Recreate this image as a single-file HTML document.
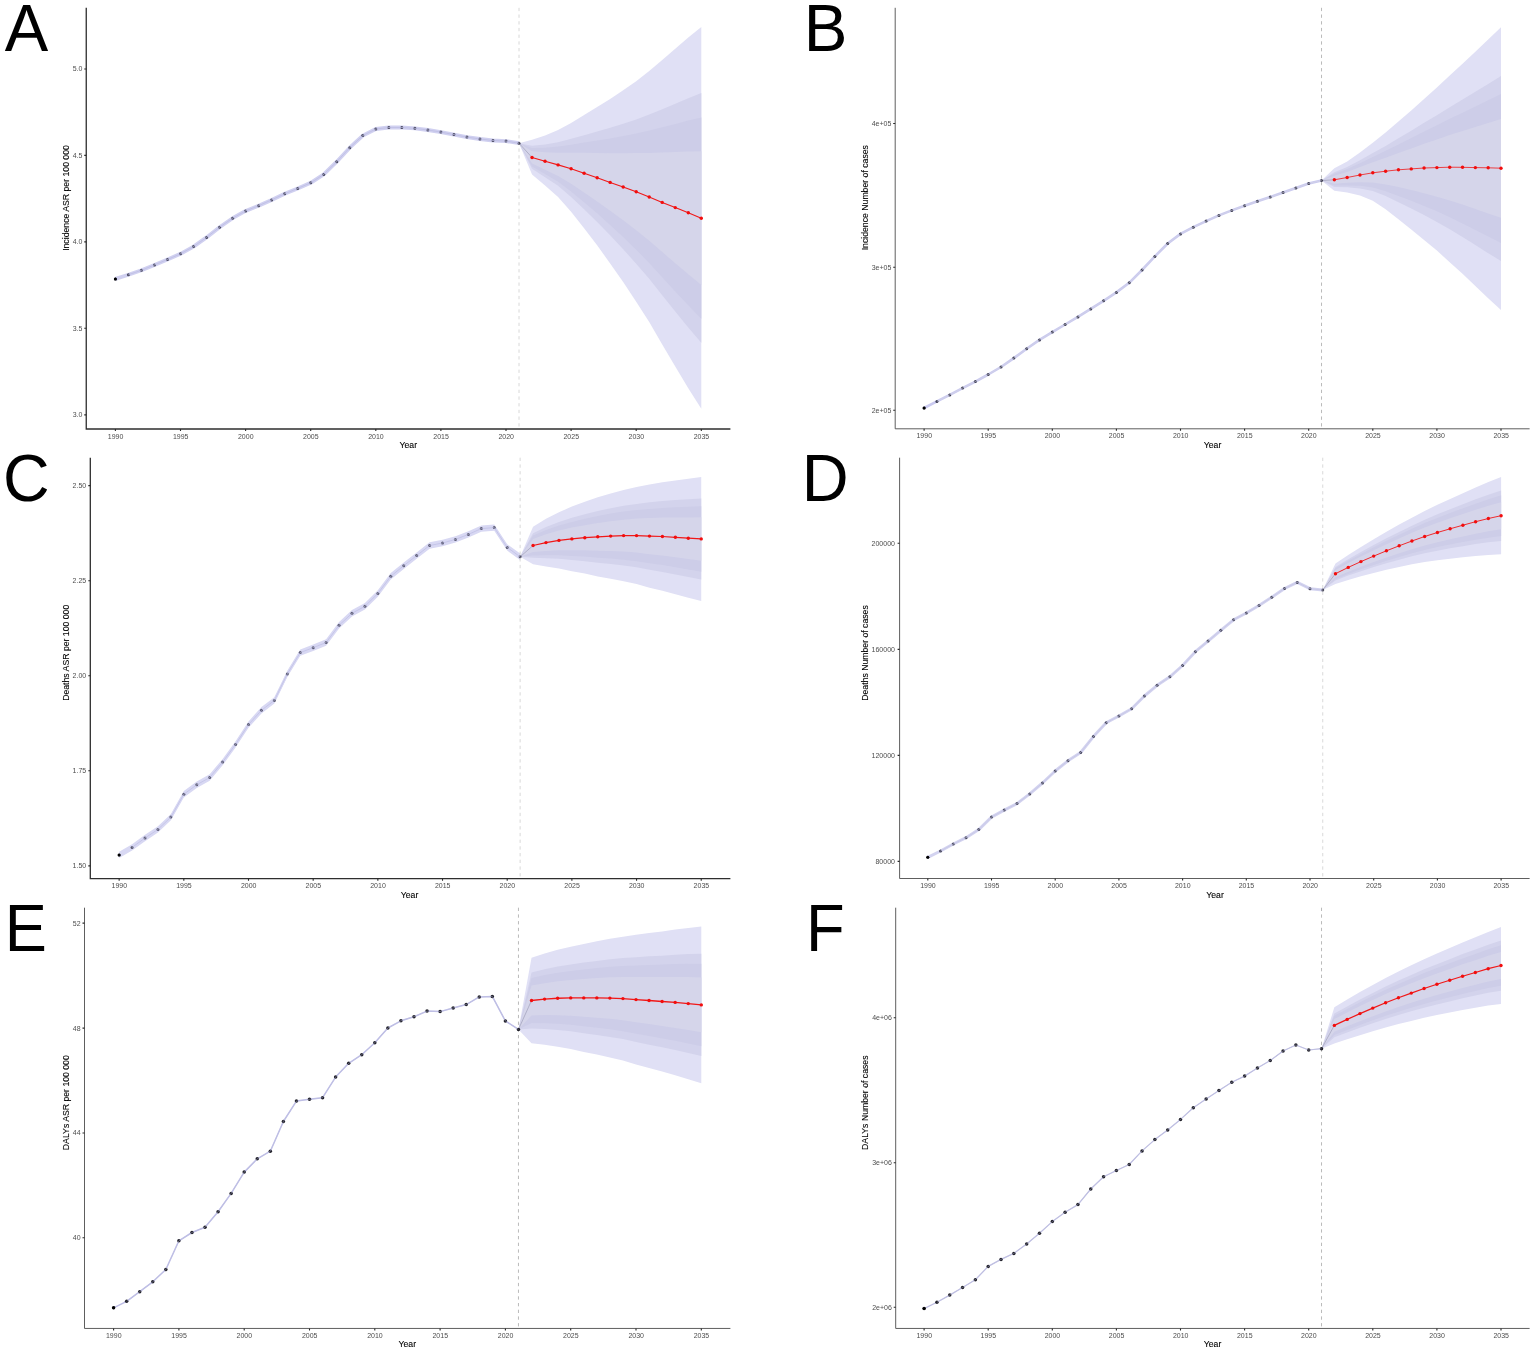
<!DOCTYPE html>
<html lang="en"><head><meta charset="utf-8"><title>Projected incidence, deaths and DALYs, 1990-2035</title>
<style>
html,body{margin:0;padding:0;background:#fff;}
body{width:1535px;height:1353px;overflow:hidden;font-family:"Liberation Sans",sans-serif;}
svg{display:block;}
text{font-family:"Liberation Sans",sans-serif;}
.letter{font-size:66px;fill:#000;}
.tick{font-size:7px;fill:#4d4d4d;}
.title{font-size:8.7px;fill:#000;stroke:#000;stroke-width:0.1px;}
</style></head><body>
<svg width="1535" height="1353" viewBox="0 0 1535 1353" role="img" aria-label="Six-panel projection chart">
<rect x="0" y="0" width="1535" height="1353" fill="#ffffff"/>
<g id="panel-A">
<polygon points="519.02,143.2 532.04,139.7 545.06,135.6 558.08,130.1 571.1,123 584.12,115 597.14,107.1 610.16,99 623.18,90.3 636.2,81.2 649.22,71 662.24,59.9 675.26,48.8 688.28,37.5 701.3,26.9 701.3,408.8 688.28,388.3 675.26,366.6 662.24,344.4 649.22,322 636.2,301.7 623.18,282 610.16,263.4 597.14,245.3 584.12,228.2 571.1,211.8 558.08,196.9 545.06,185.6 532.04,174.6" fill="#e0e0f5"/>
<polygon points="519.02,143.2 532.04,145.86 545.06,144.49 558.08,142.14 571.1,138.85 584.12,135.14 597.14,131.56 610.16,127.86 623.18,123.76 636.2,119.43 649.22,114.6 662.24,109.2 675.26,103.74 688.28,98.15 701.3,93.09 701.3,342.85 688.28,327.58 675.26,311.59 662.24,295.27 649.22,278.75 636.2,263.64 623.18,249.13 610.16,235.37 597.14,221.95 584.12,209.17 571.1,196.92 558.08,185.83 545.06,177.19 532.04,168.68" fill="#d3d3ec"/>
<polygon points="519.02,143.2 532.04,148.12 545.06,147.76 558.08,146.56 571.1,144.66 584.12,142.53 597.14,140.54 610.16,138.45 623.18,136.04 636.2,133.47 649.22,130.6 662.24,127.3 675.26,123.91 688.28,120.42 701.3,117.38 701.3,318.65 688.28,305.29 675.26,291.39 662.24,277.23 649.22,262.88 636.2,249.67 623.18,237.06 610.16,225.09 597.14,213.37 584.12,202.19 571.1,191.46 558.08,181.76 545.06,174.11 532.04,166.51" fill="#cdcde8"/>
<polygon points="519.02,143.2 532.04,151.27 545.06,152.31 558.08,152.72 571.1,152.77 584.12,152.83 597.14,153.06 610.16,153.21 623.18,153.16 636.2,153.02 649.22,152.9 662.24,152.53 675.26,152.02 688.28,151.45 701.3,151.25 701.3,284.91 688.28,274.23 675.26,263.25 662.24,252.1 649.22,240.75 636.2,230.2 623.18,220.25 610.16,210.75 597.14,201.43 584.12,192.45 571.1,183.85 558.08,176.1 545.06,169.81 532.04,163.49" fill="#d5d5ea"/>
<polyline points="115.4,278.9 128.42,274.7 141.44,270.3 154.46,264.9 167.48,259.5 180.5,253.8 193.52,246.6 206.54,237.4 219.56,227.2 232.58,218.2 245.6,210.9 258.62,205.7 271.64,199.9 284.66,193.8 297.68,188.4 310.7,182.8 323.72,174.4 336.74,161.7 349.76,147.7 362.78,135.6 375.8,129 388.82,127.5 401.84,127.5 414.86,128.3 427.88,130 440.9,132.1 453.92,134.6 466.94,137.1 479.96,139 492.98,140.5 506,141.1 519.02,143.2" fill="none" stroke="#d0d0f0" stroke-width="3.8" stroke-linejoin="round" stroke-linecap="butt"/>
<line x1="519.02" y1="7.8" x2="519.02" y2="429" stroke="#cfcfcf" stroke-width="0.8" stroke-dasharray="3.3 3.4"/>
<line x1="519.02" y1="143.2" x2="532.04" y2="157.5" stroke="#8a8aa6" stroke-width="0.5"/>
<g fill="#26263a" fill-opacity="0.8"><circle cx="115.4" cy="278.9" r="1.5"/><circle cx="128.42" cy="274.7" r="1.5"/><circle cx="141.44" cy="270.3" r="1.5"/><circle cx="154.46" cy="264.9" r="1.5"/><circle cx="167.48" cy="259.5" r="1.5"/><circle cx="180.5" cy="253.8" r="1.5"/><circle cx="193.52" cy="246.6" r="1.5"/><circle cx="206.54" cy="237.4" r="1.5"/><circle cx="219.56" cy="227.2" r="1.5"/><circle cx="232.58" cy="218.2" r="1.5"/><circle cx="245.6" cy="210.9" r="1.5"/><circle cx="258.62" cy="205.7" r="1.5"/><circle cx="271.64" cy="199.9" r="1.5"/><circle cx="284.66" cy="193.8" r="1.5"/><circle cx="297.68" cy="188.4" r="1.5"/><circle cx="310.7" cy="182.8" r="1.5"/><circle cx="323.72" cy="174.4" r="1.5"/><circle cx="336.74" cy="161.7" r="1.5"/><circle cx="349.76" cy="147.7" r="1.5"/><circle cx="362.78" cy="135.6" r="1.5"/><circle cx="375.8" cy="129" r="1.5"/><circle cx="388.82" cy="127.5" r="1.5"/><circle cx="401.84" cy="127.5" r="1.5"/><circle cx="414.86" cy="128.3" r="1.5"/><circle cx="427.88" cy="130" r="1.5"/><circle cx="440.9" cy="132.1" r="1.5"/><circle cx="453.92" cy="134.6" r="1.5"/><circle cx="466.94" cy="137.1" r="1.5"/><circle cx="479.96" cy="139" r="1.5"/><circle cx="492.98" cy="140.5" r="1.5"/><circle cx="506" cy="141.1" r="1.5"/><circle cx="519.02" cy="143.2" r="1.5"/></g>
<circle cx="115.4" cy="278.9" r="1.5" fill="#000"/>
<polyline points="128.42,274.7 141.44,270.3 154.46,264.9 167.48,259.5 180.5,253.8 193.52,246.6 206.54,237.4 219.56,227.2 232.58,218.2 245.6,210.9 258.62,205.7 271.64,199.9 284.66,193.8 297.68,188.4 310.7,182.8 323.72,174.4 336.74,161.7 349.76,147.7 362.78,135.6 375.8,129 388.82,127.5 401.84,127.5 414.86,128.3 427.88,130 440.9,132.1 453.92,134.6 466.94,137.1 479.96,139 492.98,140.5 506,141.1 519.02,143.2" fill="none" stroke="#bcbce2" stroke-width="0.9" stroke-linejoin="round" stroke-opacity="0.85"/>
<polyline points="532.04,157.5 545.06,161.3 558.08,164.9 571.1,168.8 584.12,173.2 597.14,177.8 610.16,182.4 623.18,187 636.2,191.7 649.22,197 662.24,202.4 675.26,207.6 688.28,212.8 701.3,218.2" fill="none" stroke="#f01818" stroke-width="1.1"/>
<g fill="#f20d0d"><circle cx="532.04" cy="157.5" r="1.7"/><circle cx="545.06" cy="161.3" r="1.7"/><circle cx="558.08" cy="164.9" r="1.7"/><circle cx="571.1" cy="168.8" r="1.7"/><circle cx="584.12" cy="173.2" r="1.7"/><circle cx="597.14" cy="177.8" r="1.7"/><circle cx="610.16" cy="182.4" r="1.7"/><circle cx="623.18" cy="187" r="1.7"/><circle cx="636.2" cy="191.7" r="1.7"/><circle cx="649.22" cy="197" r="1.7"/><circle cx="662.24" cy="202.4" r="1.7"/><circle cx="675.26" cy="207.6" r="1.7"/><circle cx="688.28" cy="212.8" r="1.7"/><circle cx="701.3" cy="218.2" r="1.7"/></g>
<path d="M86.25 7.8V429H730.4" fill="none" stroke="#2e2e2e" stroke-width="1.3"/>
<path d="M84.25 69h2M84.25 155.4h2M84.25 241.9h2M84.25 328.2h2M84.25 414.9h2M115.4 429v2M180.5 429v2M245.6 429v2M310.7 429v2M375.8 429v2M440.9 429v2M506 429v2M571.1 429v2M636.2 429v2M701.3 429v2" fill="none" stroke="#2a2a2a" stroke-width="1.1"/>
<text class="tick" transform="translate(82.35 71.45) scale(1 1.05)" text-anchor="end">5.0</text>
<text class="tick" transform="translate(82.35 157.85) scale(1 1.05)" text-anchor="end">4.5</text>
<text class="tick" transform="translate(82.35 244.35) scale(1 1.05)" text-anchor="end">4.0</text>
<text class="tick" transform="translate(82.35 330.65) scale(1 1.05)" text-anchor="end">3.5</text>
<text class="tick" transform="translate(82.35 417.35) scale(1 1.05)" text-anchor="end">3.0</text>
<text class="tick" transform="translate(115.55 438.55) scale(1 1.05)" text-anchor="middle">1990</text>
<text class="tick" transform="translate(180.65 438.55) scale(1 1.05)" text-anchor="middle">1995</text>
<text class="tick" transform="translate(245.75 438.55) scale(1 1.05)" text-anchor="middle">2000</text>
<text class="tick" transform="translate(310.85 438.55) scale(1 1.05)" text-anchor="middle">2005</text>
<text class="tick" transform="translate(375.95 438.55) scale(1 1.05)" text-anchor="middle">2010</text>
<text class="tick" transform="translate(441.05 438.55) scale(1 1.05)" text-anchor="middle">2015</text>
<text class="tick" transform="translate(506.15 438.55) scale(1 1.05)" text-anchor="middle">2020</text>
<text class="tick" transform="translate(571.25 438.55) scale(1 1.05)" text-anchor="middle">2025</text>
<text class="tick" transform="translate(636.35 438.55) scale(1 1.05)" text-anchor="middle">2030</text>
<text class="tick" transform="translate(701.45 438.55) scale(1 1.05)" text-anchor="middle">2035</text>
<text class="title" transform="translate(408.3 448) scale(1 1.04)" text-anchor="middle">Year</text>
<text class="title" transform="translate(68.6 198) rotate(-90) scale(1 1.04)" text-anchor="middle">Incidence ASR per 100 000</text>
<text class="letter" transform="translate(4.66 51) scale(0.988 1)">A</text>
</g>
<g id="panel-B">
<polygon points="1321.52,180.5 1334.34,168.3 1347.16,161.5 1359.98,152.5 1372.8,142.7 1385.62,132.5 1398.44,121.6 1411.26,110.5 1424.08,98.9 1436.9,87.4 1449.72,75.5 1462.54,63.7 1475.36,51.8 1488.18,39.5 1501,27.3 1501,310.1 1488.18,298.3 1475.36,286.1 1462.54,273.8 1449.72,262.2 1436.9,250.6 1424.08,240 1411.26,229.4 1398.44,219.3 1385.62,209.2 1372.8,200.8 1359.98,195.5 1347.16,192.5 1334.34,190.8" fill="#e0e0f5"/>
<polygon points="1321.52,180.5 1334.34,172.28 1347.16,167.04 1359.98,160.28 1372.8,153.11 1385.62,145.89 1398.44,138.28 1411.26,130.71 1424.08,122.81 1436.9,115.15 1449.72,107.23 1462.54,99.55 1475.36,91.87 1488.18,83.89 1501,76.05 1501,261 1488.18,253.15 1475.36,245.1 1462.54,236.95 1449.72,229.33 1436.9,221.88 1424.08,215.09 1411.26,208.47 1398.44,202.17 1385.62,196.05 1372.8,191.11 1359.98,188.41 1347.16,187.31 1334.34,186.99" fill="#d3d3ec"/>
<polygon points="1321.52,180.5 1334.34,173.74 1347.16,169.07 1359.98,163.14 1372.8,156.94 1385.62,150.81 1398.44,144.4 1411.26,138.12 1424.08,131.58 1436.9,125.33 1449.72,118.87 1462.54,112.7 1475.36,106.57 1488.18,100.19 1501,93.95 1501,242.98 1488.18,236.57 1475.36,230.05 1462.54,223.43 1449.72,217.26 1436.9,211.34 1424.08,205.94 1411.26,200.78 1398.44,195.89 1385.62,191.23 1372.8,187.56 1359.98,185.8 1347.16,185.41 1334.34,185.6" fill="#cdcde8"/>
<polygon points="1321.52,180.5 1334.34,175.78 1347.16,171.9 1359.98,167.12 1372.8,162.27 1385.62,157.66 1398.44,152.93 1411.26,148.46 1424.08,143.81 1436.9,139.53 1449.72,135.1 1462.54,131.04 1475.36,127.07 1488.18,122.9 1501,118.88 1501,217.86 1488.18,213.48 1475.36,209.07 1462.54,204.58 1449.72,200.45 1436.9,196.65 1424.08,193.2 1411.26,190.07 1398.44,187.12 1385.62,184.5 1372.8,182.6 1359.98,182.18 1347.16,182.75 1334.34,183.65" fill="#d5d5ea"/>
<polyline points="924.1,408 936.92,401.4 949.74,394.9 962.56,388.1 975.38,381.6 988.2,374.5 1001.02,367 1013.84,358.1 1026.66,348.7 1039.48,339.9 1052.3,332.1 1065.12,324.5 1077.94,316.9 1090.76,308.9 1103.58,300.8 1116.4,292.4 1129.22,282.8 1142.04,270 1154.86,256.4 1167.68,243.5 1180.5,233.9 1193.32,227.2 1206.14,221.1 1218.96,215.4 1231.78,210.4 1244.6,205.8 1257.42,201.3 1270.24,197.1 1283.06,192.6 1295.88,188 1308.7,183.5 1321.52,180.5" fill="none" stroke="#cacaf0" stroke-width="2.6" stroke-linejoin="round" stroke-linecap="butt"/>
<line x1="1321.52" y1="7.8" x2="1321.52" y2="428.8" stroke="#9c9c9c" stroke-width="0.7" stroke-dasharray="3.3 3.4"/>
<line x1="1321.52" y1="180.5" x2="1334.34" y2="179.8" stroke="#8a8aa6" stroke-width="0.5"/>
<g fill="#26263a" fill-opacity="0.85"><circle cx="924.1" cy="408" r="1.5"/><circle cx="936.92" cy="401.4" r="1.5"/><circle cx="949.74" cy="394.9" r="1.5"/><circle cx="962.56" cy="388.1" r="1.5"/><circle cx="975.38" cy="381.6" r="1.5"/><circle cx="988.2" cy="374.5" r="1.5"/><circle cx="1001.02" cy="367" r="1.5"/><circle cx="1013.84" cy="358.1" r="1.5"/><circle cx="1026.66" cy="348.7" r="1.5"/><circle cx="1039.48" cy="339.9" r="1.5"/><circle cx="1052.3" cy="332.1" r="1.5"/><circle cx="1065.12" cy="324.5" r="1.5"/><circle cx="1077.94" cy="316.9" r="1.5"/><circle cx="1090.76" cy="308.9" r="1.5"/><circle cx="1103.58" cy="300.8" r="1.5"/><circle cx="1116.4" cy="292.4" r="1.5"/><circle cx="1129.22" cy="282.8" r="1.5"/><circle cx="1142.04" cy="270" r="1.5"/><circle cx="1154.86" cy="256.4" r="1.5"/><circle cx="1167.68" cy="243.5" r="1.5"/><circle cx="1180.5" cy="233.9" r="1.5"/><circle cx="1193.32" cy="227.2" r="1.5"/><circle cx="1206.14" cy="221.1" r="1.5"/><circle cx="1218.96" cy="215.4" r="1.5"/><circle cx="1231.78" cy="210.4" r="1.5"/><circle cx="1244.6" cy="205.8" r="1.5"/><circle cx="1257.42" cy="201.3" r="1.5"/><circle cx="1270.24" cy="197.1" r="1.5"/><circle cx="1283.06" cy="192.6" r="1.5"/><circle cx="1295.88" cy="188" r="1.5"/><circle cx="1308.7" cy="183.5" r="1.5"/><circle cx="1321.52" cy="180.5" r="1.5"/></g>
<circle cx="924.1" cy="408" r="1.5" fill="#000"/>
<polyline points="936.92,401.4 949.74,394.9 962.56,388.1 975.38,381.6 988.2,374.5 1001.02,367 1013.84,358.1 1026.66,348.7 1039.48,339.9 1052.3,332.1 1065.12,324.5 1077.94,316.9 1090.76,308.9 1103.58,300.8 1116.4,292.4 1129.22,282.8 1142.04,270 1154.86,256.4 1167.68,243.5 1180.5,233.9 1193.32,227.2 1206.14,221.1 1218.96,215.4 1231.78,210.4 1244.6,205.8 1257.42,201.3 1270.24,197.1 1283.06,192.6 1295.88,188 1308.7,183.5 1321.52,180.5" fill="none" stroke="#d4d4e2" stroke-width="0.7" stroke-linejoin="round" stroke-opacity="0.85"/>
<polyline points="1334.34,179.8 1347.16,177.5 1359.98,175 1372.8,172.8 1385.62,171.2 1398.44,169.8 1411.26,168.9 1424.08,168 1436.9,167.6 1449.72,167.2 1462.54,167.3 1475.36,167.6 1488.18,167.8 1501,168.2" fill="none" stroke="#f01818" stroke-width="0.8"/>
<g fill="#f20d0d"><circle cx="1334.34" cy="179.8" r="1.7"/><circle cx="1347.16" cy="177.5" r="1.7"/><circle cx="1359.98" cy="175" r="1.7"/><circle cx="1372.8" cy="172.8" r="1.7"/><circle cx="1385.62" cy="171.2" r="1.7"/><circle cx="1398.44" cy="169.8" r="1.7"/><circle cx="1411.26" cy="168.9" r="1.7"/><circle cx="1424.08" cy="168" r="1.7"/><circle cx="1436.9" cy="167.6" r="1.7"/><circle cx="1449.72" cy="167.2" r="1.7"/><circle cx="1462.54" cy="167.3" r="1.7"/><circle cx="1475.36" cy="167.6" r="1.7"/><circle cx="1488.18" cy="167.8" r="1.7"/><circle cx="1501" cy="168.2" r="1.7"/></g>
<path d="M895.2 7.8V428.8H1529.6" fill="none" stroke="#4c4c4c" stroke-width="0.9"/>
<path d="M893.2 123.5h2M893.2 267.2h2M893.2 410.2h2M924.1 428.8v2M988.2 428.8v2M1052.3 428.8v2M1116.4 428.8v2M1180.5 428.8v2M1244.6 428.8v2M1308.7 428.8v2M1372.8 428.8v2M1436.9 428.8v2M1501 428.8v2" fill="none" stroke="#2a2a2a" stroke-width="1.1"/>
<text class="tick" transform="translate(891.3 125.95) scale(1 1.05)" text-anchor="end">4e+05</text>
<text class="tick" transform="translate(891.3 269.65) scale(1 1.05)" text-anchor="end">3e+05</text>
<text class="tick" transform="translate(891.3 412.65) scale(1 1.05)" text-anchor="end">2e+05</text>
<text class="tick" transform="translate(924.25 438.35) scale(1 1.05)" text-anchor="middle">1990</text>
<text class="tick" transform="translate(988.35 438.35) scale(1 1.05)" text-anchor="middle">1995</text>
<text class="tick" transform="translate(1052.45 438.35) scale(1 1.05)" text-anchor="middle">2000</text>
<text class="tick" transform="translate(1116.55 438.35) scale(1 1.05)" text-anchor="middle">2005</text>
<text class="tick" transform="translate(1180.65 438.35) scale(1 1.05)" text-anchor="middle">2010</text>
<text class="tick" transform="translate(1244.75 438.35) scale(1 1.05)" text-anchor="middle">2015</text>
<text class="tick" transform="translate(1308.85 438.35) scale(1 1.05)" text-anchor="middle">2020</text>
<text class="tick" transform="translate(1372.95 438.35) scale(1 1.05)" text-anchor="middle">2025</text>
<text class="tick" transform="translate(1437.05 438.35) scale(1 1.05)" text-anchor="middle">2030</text>
<text class="tick" transform="translate(1501.15 438.35) scale(1 1.05)" text-anchor="middle">2035</text>
<text class="title" transform="translate(1212.5 448) scale(1 1.04)" text-anchor="middle">Year</text>
<text class="title" transform="translate(868.2 197.7) rotate(-90) scale(1 1.04)" text-anchor="middle">Incidence Number of cases</text>
<text class="letter" transform="translate(803.72 51) scale(0.992 1)">B</text>
</g>
<g id="panel-C">
<polygon points="520.13,556.8 533.07,526.7 546,518.7 558.94,512.2 571.88,506.6 584.81,501.8 597.75,497.2 610.68,493.4 623.62,490 636.55,487.1 649.49,484.5 662.42,482.3 675.36,480.4 688.29,478.7 701.23,477 701.23,601.1 688.29,597.7 675.36,594.2 662.42,590.7 649.49,587.7 636.55,584.1 623.62,581.2 610.68,578.8 597.75,576.4 584.81,573.6 571.88,571.2 558.94,568.6 546,566.5 533.07,564.3" fill="#e0e0f5"/>
<polygon points="520.13,556.8 533.07,533.2 546,526.97 558.94,521.96 571.88,517.78 584.81,514.22 597.75,510.9 610.68,508.17 623.62,505.78 636.55,503.88 649.49,502.35 662.42,501.05 675.36,500.09 688.29,499.29 701.23,498.42 701.23,579.58 688.29,577.11 675.36,574.51 662.42,571.95 649.49,569.85 636.55,567.32 623.62,565.42 610.68,564.03 597.75,562.7 584.81,561.18 571.88,560.02 558.94,558.84 546,558.23 533.07,557.8" fill="#d3d3ec"/>
<polygon points="520.13,556.8 533.07,535.59 546,530 558.94,525.54 571.88,521.88 584.81,518.78 597.75,515.93 610.68,513.6 623.62,511.57 636.55,510.04 649.49,508.91 662.42,507.94 675.36,507.31 688.29,506.84 701.23,506.28 701.23,571.68 688.29,569.56 675.36,567.29 662.42,565.06 649.49,563.29 636.55,561.16 623.62,559.63 610.68,558.6 597.75,557.67 584.81,556.62 571.88,555.92 558.94,555.26 546,555.2 533.07,555.41" fill="#cdcde8"/>
<polygon points="520.13,556.8 533.07,538.92 546,534.24 558.94,530.53 571.88,527.6 584.81,525.13 597.75,522.94 610.68,521.15 623.62,519.64 636.55,518.62 649.49,518.04 662.42,517.53 675.36,517.38 688.29,517.38 701.23,517.24 701.23,560.67 688.29,559.03 675.36,557.21 662.42,555.47 649.49,554.16 636.55,552.58 623.62,551.56 610.68,551.05 597.75,550.66 584.81,550.27 571.88,550.2 558.94,550.27 546,550.97 533.07,552.08" fill="#d5d5ea"/>
<polygon points="119.15,851.7 132.09,844.2 145.02,834.8 157.96,826.2 170.89,813.9 183.82,791 196.76,781.6 209.69,774.3 222.63,758.9 235.56,741.2 248.5,721.4 261.44,707.1 274.37,697.2 287.31,670.7 300.24,649.4 313.18,644.5 326.11,639.3 339.05,622.1 351.98,610.1 364.92,603.1 377.85,590.3 390.78,573.1 403.72,562.5 416.65,552.4 429.59,542.3 442.52,539.8 455.46,536.2 468.39,531.2 481.33,525.4 494.26,524.4 507.2,544.2 520.13,553.6 520.13,560 507.2,550.6 494.26,530.8 481.33,531.8 468.39,537.6 455.46,542.6 442.52,546.2 429.59,548.7 416.65,558.8 403.72,568.9 390.78,579.5 377.85,596.7 364.92,609.5 351.98,616.5 339.05,628.5 326.11,645.7 313.18,650.9 300.24,655.8 287.31,677.1 274.37,703.6 261.44,713.5 248.5,727.8 235.56,747.6 222.63,765.3 209.69,780.7 196.76,788 183.82,797.4 170.89,820.3 157.96,832.6 145.02,841.2 132.09,850.6 119.15,858.1" fill="#d8d8f3"/>
<polyline points="119.15,854.9 132.09,847.4 145.02,838 157.96,829.4 170.89,817.1 183.82,794.2 196.76,784.8 209.69,777.5 222.63,762.1 235.56,744.4 248.5,724.6 261.44,710.3 274.37,700.4 287.31,673.9 300.24,652.6 313.18,647.7 326.11,642.5 339.05,625.3 351.98,613.3 364.92,606.3 377.85,593.5 390.78,576.3 403.72,565.7 416.65,555.6 429.59,545.5 442.52,543 455.46,539.4 468.39,534.4 481.33,528.6 494.26,527.6 507.2,547.4 520.13,556.8" fill="none" stroke="#d8d8f3" stroke-width="2.2" stroke-linejoin="round" stroke-linecap="butt"/>
<line x1="520.13" y1="457.7" x2="520.13" y2="878.7" stroke="#cfcfcf" stroke-width="0.8" stroke-dasharray="3.3 3.4"/>
<line x1="520.13" y1="556.8" x2="533.07" y2="545.5" stroke="#8a8aa6" stroke-width="0.5"/>
<g fill="#26263a" fill-opacity="0.7"><circle cx="119.15" cy="854.9" r="1.5"/><circle cx="132.09" cy="847.4" r="1.5"/><circle cx="145.02" cy="838" r="1.5"/><circle cx="157.96" cy="829.4" r="1.5"/><circle cx="170.89" cy="817.1" r="1.5"/><circle cx="183.82" cy="794.2" r="1.5"/><circle cx="196.76" cy="784.8" r="1.5"/><circle cx="209.69" cy="777.5" r="1.5"/><circle cx="222.63" cy="762.1" r="1.5"/><circle cx="235.56" cy="744.4" r="1.5"/><circle cx="248.5" cy="724.6" r="1.5"/><circle cx="261.44" cy="710.3" r="1.5"/><circle cx="274.37" cy="700.4" r="1.5"/><circle cx="287.31" cy="673.9" r="1.5"/><circle cx="300.24" cy="652.6" r="1.5"/><circle cx="313.18" cy="647.7" r="1.5"/><circle cx="326.11" cy="642.5" r="1.5"/><circle cx="339.05" cy="625.3" r="1.5"/><circle cx="351.98" cy="613.3" r="1.5"/><circle cx="364.92" cy="606.3" r="1.5"/><circle cx="377.85" cy="593.5" r="1.5"/><circle cx="390.78" cy="576.3" r="1.5"/><circle cx="403.72" cy="565.7" r="1.5"/><circle cx="416.65" cy="555.6" r="1.5"/><circle cx="429.59" cy="545.5" r="1.5"/><circle cx="442.52" cy="543" r="1.5"/><circle cx="455.46" cy="539.4" r="1.5"/><circle cx="468.39" cy="534.4" r="1.5"/><circle cx="481.33" cy="528.6" r="1.5"/><circle cx="494.26" cy="527.6" r="1.5"/><circle cx="507.2" cy="547.4" r="1.5"/><circle cx="520.13" cy="556.8" r="1.5"/></g>
<circle cx="119.15" cy="854.9" r="1.5" fill="#000"/>
<polyline points="132.09,847.4 145.02,838 157.96,829.4 170.89,817.1 183.82,794.2 196.76,784.8 209.69,777.5 222.63,762.1 235.56,744.4 248.5,724.6 261.44,710.3 274.37,700.4 287.31,673.9 300.24,652.6 313.18,647.7 326.11,642.5 339.05,625.3 351.98,613.3 364.92,606.3 377.85,593.5 390.78,576.3 403.72,565.7 416.65,555.6 429.59,545.5 442.52,543 455.46,539.4 468.39,534.4 481.33,528.6 494.26,527.6 507.2,547.4 520.13,556.8" fill="none" stroke="#b8b8e0" stroke-width="0.7" stroke-linejoin="round" stroke-opacity="0.85"/>
<polyline points="533.07,545.5 546,542.6 558.94,540.4 571.88,538.9 584.81,537.7 597.75,536.8 610.68,536.1 623.62,535.6 636.55,535.6 649.49,536.1 662.42,536.5 675.36,537.3 688.29,538.2 701.23,538.9" fill="none" stroke="#f01818" stroke-width="1.2"/>
<g fill="#f20d0d"><circle cx="533.07" cy="545.5" r="1.7"/><circle cx="546" cy="542.6" r="1.7"/><circle cx="558.94" cy="540.4" r="1.7"/><circle cx="571.88" cy="538.9" r="1.7"/><circle cx="584.81" cy="537.7" r="1.7"/><circle cx="597.75" cy="536.8" r="1.7"/><circle cx="610.68" cy="536.1" r="1.7"/><circle cx="623.62" cy="535.6" r="1.7"/><circle cx="636.55" cy="535.6" r="1.7"/><circle cx="649.49" cy="536.1" r="1.7"/><circle cx="662.42" cy="536.5" r="1.7"/><circle cx="675.36" cy="537.3" r="1.7"/><circle cx="688.29" cy="538.2" r="1.7"/><circle cx="701.23" cy="538.9" r="1.7"/></g>
<path d="M90.3 457.7V878.7H730.4" fill="none" stroke="#2e2e2e" stroke-width="1.3"/>
<path d="M88.3 485.6h2M88.3 580.7h2M88.3 675.8h2M88.3 770.8h2M88.3 865.9h2M119.15 878.7v2M183.82 878.7v2M248.5 878.7v2M313.18 878.7v2M377.85 878.7v2M442.52 878.7v2M507.2 878.7v2M571.88 878.7v2M636.55 878.7v2M701.23 878.7v2" fill="none" stroke="#2a2a2a" stroke-width="1.1"/>
<text class="tick" transform="translate(86.2 488.05) scale(1 1.05)" text-anchor="end">2.50</text>
<text class="tick" transform="translate(86.2 583.15) scale(1 1.05)" text-anchor="end">2.25</text>
<text class="tick" transform="translate(86.2 678.25) scale(1 1.05)" text-anchor="end">2.00</text>
<text class="tick" transform="translate(86.2 773.25) scale(1 1.05)" text-anchor="end">1.75</text>
<text class="tick" transform="translate(86.2 868.35) scale(1 1.05)" text-anchor="end">1.50</text>
<text class="tick" transform="translate(119.3 888.25) scale(1 1.05)" text-anchor="middle">1990</text>
<text class="tick" transform="translate(183.97 888.25) scale(1 1.05)" text-anchor="middle">1995</text>
<text class="tick" transform="translate(248.65 888.25) scale(1 1.05)" text-anchor="middle">2000</text>
<text class="tick" transform="translate(313.32 888.25) scale(1 1.05)" text-anchor="middle">2005</text>
<text class="tick" transform="translate(378 888.25) scale(1 1.05)" text-anchor="middle">2010</text>
<text class="tick" transform="translate(442.67 888.25) scale(1 1.05)" text-anchor="middle">2015</text>
<text class="tick" transform="translate(507.35 888.25) scale(1 1.05)" text-anchor="middle">2020</text>
<text class="tick" transform="translate(572.02 888.25) scale(1 1.05)" text-anchor="middle">2025</text>
<text class="tick" transform="translate(636.7 888.25) scale(1 1.05)" text-anchor="middle">2030</text>
<text class="tick" transform="translate(701.38 888.25) scale(1 1.05)" text-anchor="middle">2035</text>
<text class="title" transform="translate(409.5 897.6) scale(1 1.04)" text-anchor="middle">Year</text>
<text class="title" transform="translate(68.6 652.8) rotate(-90) scale(1 1.04)" text-anchor="middle">Deaths ASR per 100 000</text>
<text class="letter" transform="translate(3.04 501) scale(0.978 1)">C</text>
</g>
<g id="panel-D">
<polygon points="1322.74,590 1335.48,563.4 1348.22,554.92 1360.96,546.95 1373.7,539.27 1386.44,531.79 1399.18,524.62 1411.92,517.64 1424.66,510.96 1437.4,504.78 1450.14,498.91 1462.88,493.13 1475.62,487.45 1488.36,482.08 1501.1,477.1 1501.1,554.3 1488.36,554.92 1475.62,555.95 1462.88,557.27 1450.14,558.69 1437.4,560.22 1424.66,562.04 1411.92,564.36 1399.18,566.98 1386.44,569.81 1373.7,572.93 1360.96,576.25 1348.22,579.88 1335.48,584" fill="#e0e0f5"/>
<polygon points="1322.74,590 1335.48,566.96 1348.22,559.24 1360.96,552.02 1373.7,545.09 1386.44,538.37 1399.18,531.95 1411.92,525.72 1424.66,519.8 1437.4,514.37 1450.14,509.25 1462.88,504.23 1475.62,499.3 1488.36,494.68 1501.1,490.46 1501.1,540.94 1488.36,542.32 1475.62,544.1 1462.88,546.17 1450.14,548.35 1437.4,550.63 1424.66,553.2 1411.92,556.28 1399.18,559.65 1386.44,563.23 1373.7,567.11 1360.96,571.18 1348.22,575.56 1335.48,580.44" fill="#d3d3ec"/>
<polygon points="1322.74,590 1335.48,568.27 1348.22,560.82 1360.96,553.88 1373.7,547.23 1386.44,540.78 1399.18,534.64 1411.92,528.69 1424.66,523.04 1437.4,517.89 1450.14,513.05 1462.88,508.3 1475.62,503.65 1488.36,499.31 1501.1,495.36 1501.1,536.04 1488.36,537.69 1475.62,539.75 1462.88,542.1 1450.14,544.55 1437.4,547.11 1424.66,549.96 1411.92,553.31 1399.18,556.96 1386.44,560.82 1373.7,564.97 1360.96,569.32 1348.22,573.98 1335.48,579.13" fill="#cdcde8"/>
<polygon points="1322.74,590 1335.48,570.1 1348.22,563.03 1360.96,556.47 1373.7,550.21 1386.44,544.15 1399.18,538.39 1411.92,532.82 1424.66,527.56 1437.4,522.8 1450.14,518.34 1462.88,513.98 1475.62,509.71 1488.36,505.75 1501.1,502.19 1501.1,529.21 1488.36,531.25 1475.62,533.69 1462.88,536.42 1450.14,539.26 1437.4,542.2 1424.66,545.44 1411.92,549.18 1399.18,553.21 1386.44,557.45 1373.7,561.99 1360.96,566.73 1348.22,571.77 1335.48,577.31" fill="#d5d5ea"/>
<polyline points="927.8,857.3 940.54,851 953.28,844 966.02,837.7 978.76,829.6 991.5,817.1 1004.24,810.1 1016.98,803.6 1029.72,793.9 1042.46,783 1055.2,771 1067.94,760.8 1080.68,752.5 1093.42,736.6 1106.16,722.8 1118.9,716 1131.64,708.7 1144.38,696 1157.12,685.3 1169.86,676.8 1182.6,665.5 1195.34,651.7 1208.08,641.1 1220.82,630.3 1233.56,619.8 1246.3,613 1259.04,605.5 1271.78,597.2 1284.52,588.5 1297.26,582.4 1310,588.7 1322.74,590" fill="none" stroke="#d3d3f0" stroke-width="3" stroke-linejoin="round" stroke-linecap="butt"/>
<line x1="1322.74" y1="457.7" x2="1322.74" y2="878.5" stroke="#cfcfcf" stroke-width="0.8" stroke-dasharray="3.3 3.4"/>
<line x1="1322.74" y1="590" x2="1335.48" y2="573.7" stroke="#8a8aa6" stroke-width="0.5"/>
<g fill="#26263a" fill-opacity="0.8"><circle cx="927.8" cy="857.3" r="1.5"/><circle cx="940.54" cy="851" r="1.5"/><circle cx="953.28" cy="844" r="1.5"/><circle cx="966.02" cy="837.7" r="1.5"/><circle cx="978.76" cy="829.6" r="1.5"/><circle cx="991.5" cy="817.1" r="1.5"/><circle cx="1004.24" cy="810.1" r="1.5"/><circle cx="1016.98" cy="803.6" r="1.5"/><circle cx="1029.72" cy="793.9" r="1.5"/><circle cx="1042.46" cy="783" r="1.5"/><circle cx="1055.2" cy="771" r="1.5"/><circle cx="1067.94" cy="760.8" r="1.5"/><circle cx="1080.68" cy="752.5" r="1.5"/><circle cx="1093.42" cy="736.6" r="1.5"/><circle cx="1106.16" cy="722.8" r="1.5"/><circle cx="1118.9" cy="716" r="1.5"/><circle cx="1131.64" cy="708.7" r="1.5"/><circle cx="1144.38" cy="696" r="1.5"/><circle cx="1157.12" cy="685.3" r="1.5"/><circle cx="1169.86" cy="676.8" r="1.5"/><circle cx="1182.6" cy="665.5" r="1.5"/><circle cx="1195.34" cy="651.7" r="1.5"/><circle cx="1208.08" cy="641.1" r="1.5"/><circle cx="1220.82" cy="630.3" r="1.5"/><circle cx="1233.56" cy="619.8" r="1.5"/><circle cx="1246.3" cy="613" r="1.5"/><circle cx="1259.04" cy="605.5" r="1.5"/><circle cx="1271.78" cy="597.2" r="1.5"/><circle cx="1284.52" cy="588.5" r="1.5"/><circle cx="1297.26" cy="582.4" r="1.5"/><circle cx="1310" cy="588.7" r="1.5"/><circle cx="1322.74" cy="590" r="1.5"/></g>
<circle cx="927.8" cy="857.3" r="1.5" fill="#000"/>
<polyline points="940.54,851 953.28,844 966.02,837.7 978.76,829.6 991.5,817.1 1004.24,810.1 1016.98,803.6 1029.72,793.9 1042.46,783 1055.2,771 1067.94,760.8 1080.68,752.5 1093.42,736.6 1106.16,722.8 1118.9,716 1131.64,708.7 1144.38,696 1157.12,685.3 1169.86,676.8 1182.6,665.5 1195.34,651.7 1208.08,641.1 1220.82,630.3 1233.56,619.8 1246.3,613 1259.04,605.5 1271.78,597.2 1284.52,588.5 1297.26,582.4 1310,588.7 1322.74,590" fill="none" stroke="#c4c4e2" stroke-width="0.8" stroke-linejoin="round" stroke-opacity="0.85"/>
<polyline points="1335.48,573.7 1348.22,567.4 1360.96,561.6 1373.7,556.1 1386.44,550.8 1399.18,545.8 1411.92,541 1424.66,536.5 1437.4,532.5 1450.14,528.8 1462.88,525.2 1475.62,521.7 1488.36,518.5 1501.1,515.7" fill="none" stroke="#f01818" stroke-width="0.9"/>
<g fill="#f20d0d"><circle cx="1335.48" cy="573.7" r="1.7"/><circle cx="1348.22" cy="567.4" r="1.7"/><circle cx="1360.96" cy="561.6" r="1.7"/><circle cx="1373.7" cy="556.1" r="1.7"/><circle cx="1386.44" cy="550.8" r="1.7"/><circle cx="1399.18" cy="545.8" r="1.7"/><circle cx="1411.92" cy="541" r="1.7"/><circle cx="1424.66" cy="536.5" r="1.7"/><circle cx="1437.4" cy="532.5" r="1.7"/><circle cx="1450.14" cy="528.8" r="1.7"/><circle cx="1462.88" cy="525.2" r="1.7"/><circle cx="1475.62" cy="521.7" r="1.7"/><circle cx="1488.36" cy="518.5" r="1.7"/><circle cx="1501.1" cy="515.7" r="1.7"/></g>
<path d="M899.6 457.7V878.5H1529.6" fill="none" stroke="#4c4c4c" stroke-width="0.9"/>
<path d="M897.6 543.2h2M897.6 649.4h2M897.6 755.4h2M897.6 861.4h2M927.8 878.5v2M991.5 878.5v2M1055.2 878.5v2M1118.9 878.5v2M1182.6 878.5v2M1246.3 878.5v2M1310 878.5v2M1373.7 878.5v2M1437.4 878.5v2M1501.1 878.5v2" fill="none" stroke="#2a2a2a" stroke-width="1.1"/>
<text class="tick" transform="translate(894.9 545.65) scale(1 1.05)" text-anchor="end">200000</text>
<text class="tick" transform="translate(894.9 651.85) scale(1 1.05)" text-anchor="end">160000</text>
<text class="tick" transform="translate(894.9 757.85) scale(1 1.05)" text-anchor="end">120000</text>
<text class="tick" transform="translate(894.9 863.85) scale(1 1.05)" text-anchor="end">80000</text>
<text class="tick" transform="translate(927.95 888.05) scale(1 1.05)" text-anchor="middle">1990</text>
<text class="tick" transform="translate(991.65 888.05) scale(1 1.05)" text-anchor="middle">1995</text>
<text class="tick" transform="translate(1055.35 888.05) scale(1 1.05)" text-anchor="middle">2000</text>
<text class="tick" transform="translate(1119.05 888.05) scale(1 1.05)" text-anchor="middle">2005</text>
<text class="tick" transform="translate(1182.75 888.05) scale(1 1.05)" text-anchor="middle">2010</text>
<text class="tick" transform="translate(1246.45 888.05) scale(1 1.05)" text-anchor="middle">2015</text>
<text class="tick" transform="translate(1310.15 888.05) scale(1 1.05)" text-anchor="middle">2020</text>
<text class="tick" transform="translate(1373.85 888.05) scale(1 1.05)" text-anchor="middle">2025</text>
<text class="tick" transform="translate(1437.55 888.05) scale(1 1.05)" text-anchor="middle">2030</text>
<text class="tick" transform="translate(1501.25 888.05) scale(1 1.05)" text-anchor="middle">2035</text>
<text class="title" transform="translate(1215 897.6) scale(1 1.04)" text-anchor="middle">Year</text>
<text class="title" transform="translate(868.2 653) rotate(-90) scale(1 1.04)" text-anchor="middle">Deaths Number of cases</text>
<text class="letter" transform="translate(801.75 501) scale(0.984 1)">D</text>
</g>
<g id="panel-E">
<polygon points="518.46,1029.4 531.52,957.8 544.58,953.5 557.64,949.8 570.7,946.8 583.76,943.9 596.82,941.3 609.88,938.8 622.94,936.7 636,934.8 649.06,933 662.12,931.4 675.18,929.6 688.24,927.9 701.3,926.6 701.3,1083.2 688.24,1079.3 675.18,1075.2 662.12,1071.6 649.06,1068 636,1064.4 622.94,1060.5 609.88,1057.4 596.82,1054.5 583.76,1051.9 570.7,1049 557.64,1046.8 544.58,1044.7 531.52,1043.2" fill="#e0e0f5"/>
<polygon points="518.46,1029.4 531.52,972.57 544.58,969.28 557.64,966.58 570.7,964.48 583.76,962.58 596.82,960.88 609.88,959.32 622.94,958.12 636,957.22 649.06,956.36 662.12,955.65 675.18,954.79 688.24,954.09 701.3,953.69 701.3,1056.11 688.24,1053.11 675.18,1050.01 662.12,1047.35 649.06,1044.64 636,1041.98 622.94,1039.08 609.88,1036.88 596.82,1034.92 583.76,1033.22 570.7,1031.32 557.64,1030.02 544.58,1028.92 531.52,1028.43" fill="#d3d3ec"/>
<polygon points="518.46,1029.4 531.52,978 544.58,975.07 557.64,972.74 570.7,970.97 583.76,969.44 596.82,968.07 609.88,966.85 622.94,965.98 636,965.45 649.06,964.93 662.12,964.56 675.18,964.03 688.24,963.71 701.3,963.64 701.3,1046.16 688.24,1043.49 675.18,1040.77 662.12,1038.44 649.06,1036.07 636,1033.75 622.94,1031.22 609.88,1029.35 596.82,1027.73 583.76,1026.36 570.7,1024.83 557.64,1023.86 544.58,1023.13 531.52,1023" fill="#cdcde8"/>
<polygon points="518.46,1029.4 531.52,985.55 544.58,983.14 557.64,981.32 570.7,980.01 583.76,979 596.82,978.09 609.88,977.35 622.94,976.94 636,976.92 649.06,976.88 662.12,976.97 675.18,976.92 688.24,977.11 701.3,977.5 701.3,1032.31 688.24,1030.1 675.18,1027.88 662.12,1026.04 649.06,1024.12 636,1022.28 622.94,1020.26 609.88,1018.86 596.82,1017.71 583.76,1016.8 570.7,1015.78 557.64,1015.27 544.58,1015.06 531.52,1015.45" fill="#d5d5ea"/>
<polyline points="113.6,1307.8 126.66,1301.3 139.72,1291.7 152.78,1281.8 165.84,1269.5 178.9,1240.8 191.96,1232.5 205.02,1227.3 218.08,1211.7 231.14,1193.4 244.2,1172.1 257.26,1158.8 270.32,1151.2 283.38,1121.5 296.44,1101.1 309.5,1099.3 322.56,1097.7 335.62,1077.1 348.68,1063.3 361.74,1054.7 374.8,1042.8 387.86,1028 400.92,1020.8 413.98,1016.7 427.04,1011.1 440.1,1011.6 453.16,1008 466.22,1004.6 479.28,996.9 492.34,996.4 505.4,1021 518.46,1029.4" fill="none" stroke="#bbbbe4" stroke-width="1.5" stroke-linejoin="round" stroke-linecap="butt"/>
<line x1="518.46" y1="907.7" x2="518.46" y2="1328.45" stroke="#9c9c9c" stroke-width="0.7" stroke-dasharray="3.3 3.4"/>
<line x1="518.46" y1="1029.4" x2="531.52" y2="1000.5" stroke="#8a8aa6" stroke-width="0.5"/>
<g fill="#15151f" fill-opacity="0.95"><circle cx="113.6" cy="1307.8" r="1.75"/><circle cx="126.66" cy="1301.3" r="1.75"/><circle cx="139.72" cy="1291.7" r="1.75"/><circle cx="152.78" cy="1281.8" r="1.75"/><circle cx="165.84" cy="1269.5" r="1.75"/><circle cx="178.9" cy="1240.8" r="1.75"/><circle cx="191.96" cy="1232.5" r="1.75"/><circle cx="205.02" cy="1227.3" r="1.75"/><circle cx="218.08" cy="1211.7" r="1.75"/><circle cx="231.14" cy="1193.4" r="1.75"/><circle cx="244.2" cy="1172.1" r="1.75"/><circle cx="257.26" cy="1158.8" r="1.75"/><circle cx="270.32" cy="1151.2" r="1.75"/><circle cx="283.38" cy="1121.5" r="1.75"/><circle cx="296.44" cy="1101.1" r="1.75"/><circle cx="309.5" cy="1099.3" r="1.75"/><circle cx="322.56" cy="1097.7" r="1.75"/><circle cx="335.62" cy="1077.1" r="1.75"/><circle cx="348.68" cy="1063.3" r="1.75"/><circle cx="361.74" cy="1054.7" r="1.75"/><circle cx="374.8" cy="1042.8" r="1.75"/><circle cx="387.86" cy="1028" r="1.75"/><circle cx="400.92" cy="1020.8" r="1.75"/><circle cx="413.98" cy="1016.7" r="1.75"/><circle cx="427.04" cy="1011.1" r="1.75"/><circle cx="440.1" cy="1011.6" r="1.75"/><circle cx="453.16" cy="1008" r="1.75"/><circle cx="466.22" cy="1004.6" r="1.75"/><circle cx="479.28" cy="996.9" r="1.75"/><circle cx="492.34" cy="996.4" r="1.75"/><circle cx="505.4" cy="1021" r="1.75"/><circle cx="518.46" cy="1029.4" r="1.75"/></g>
<circle cx="113.6" cy="1307.8" r="1.5" fill="#000"/>
<polyline points="126.66,1301.3 139.72,1291.7 152.78,1281.8 165.84,1269.5 178.9,1240.8 191.96,1232.5 205.02,1227.3 218.08,1211.7 231.14,1193.4 244.2,1172.1 257.26,1158.8 270.32,1151.2 283.38,1121.5 296.44,1101.1 309.5,1099.3 322.56,1097.7 335.62,1077.1 348.68,1063.3 361.74,1054.7 374.8,1042.8 387.86,1028 400.92,1020.8 413.98,1016.7 427.04,1011.1 440.1,1011.6 453.16,1008 466.22,1004.6 479.28,996.9 492.34,996.4 505.4,1021 518.46,1029.4" fill="none" stroke="#c4c4e6" stroke-width="0.5" stroke-linejoin="round" stroke-opacity="0.85"/>
<polyline points="531.52,1000.5 544.58,999.1 557.64,998.3 570.7,997.9 583.76,997.9 596.82,997.9 609.88,998.1 622.94,998.6 636,999.6 649.06,1000.5 662.12,1001.5 675.18,1002.4 688.24,1003.6 701.3,1004.9" fill="none" stroke="#f01818" stroke-width="1.4"/>
<g fill="#f20d0d"><circle cx="531.52" cy="1000.5" r="1.7"/><circle cx="544.58" cy="999.1" r="1.7"/><circle cx="557.64" cy="998.3" r="1.7"/><circle cx="570.7" cy="997.9" r="1.7"/><circle cx="583.76" cy="997.9" r="1.7"/><circle cx="596.82" cy="997.9" r="1.7"/><circle cx="609.88" cy="998.1" r="1.7"/><circle cx="622.94" cy="998.6" r="1.7"/><circle cx="636" cy="999.6" r="1.7"/><circle cx="649.06" cy="1000.5" r="1.7"/><circle cx="662.12" cy="1001.5" r="1.7"/><circle cx="675.18" cy="1002.4" r="1.7"/><circle cx="688.24" cy="1003.6" r="1.7"/><circle cx="701.3" cy="1004.9" r="1.7"/></g>
<path d="M84.5 907.7V1328.45H730.4" fill="none" stroke="#4c4c4c" stroke-width="0.9"/>
<path d="M82.5 923.1h2M82.5 1028.1h2M82.5 1133h2M82.5 1237.7h2M113.6 1328.45v2M178.9 1328.45v2M244.2 1328.45v2M309.5 1328.45v2M374.8 1328.45v2M440.1 1328.45v2M505.4 1328.45v2M570.7 1328.45v2M636 1328.45v2M701.3 1328.45v2" fill="none" stroke="#2a2a2a" stroke-width="1.1"/>
<text class="tick" transform="translate(80.6 925.55) scale(1 1.05)" text-anchor="end">52</text>
<text class="tick" transform="translate(80.6 1030.55) scale(1 1.05)" text-anchor="end">48</text>
<text class="tick" transform="translate(80.6 1135.45) scale(1 1.05)" text-anchor="end">44</text>
<text class="tick" transform="translate(80.6 1240.15) scale(1 1.05)" text-anchor="end">40</text>
<text class="tick" transform="translate(113.75 1338) scale(1 1.05)" text-anchor="middle">1990</text>
<text class="tick" transform="translate(179.05 1338) scale(1 1.05)" text-anchor="middle">1995</text>
<text class="tick" transform="translate(244.35 1338) scale(1 1.05)" text-anchor="middle">2000</text>
<text class="tick" transform="translate(309.65 1338) scale(1 1.05)" text-anchor="middle">2005</text>
<text class="tick" transform="translate(374.95 1338) scale(1 1.05)" text-anchor="middle">2010</text>
<text class="tick" transform="translate(440.25 1338) scale(1 1.05)" text-anchor="middle">2015</text>
<text class="tick" transform="translate(505.55 1338) scale(1 1.05)" text-anchor="middle">2020</text>
<text class="tick" transform="translate(570.85 1338) scale(1 1.05)" text-anchor="middle">2025</text>
<text class="tick" transform="translate(636.15 1338) scale(1 1.05)" text-anchor="middle">2030</text>
<text class="tick" transform="translate(701.45 1338) scale(1 1.05)" text-anchor="middle">2035</text>
<text class="title" transform="translate(407.3 1347.4) scale(1 1.04)" text-anchor="middle">Year</text>
<text class="title" transform="translate(68.6 1102.7) rotate(-90) scale(1 1.04)" text-anchor="middle">DALYs ASR per 100 000</text>
<text class="letter" transform="translate(4.8 951) scale(0.957 1)">E</text>
</g>
<g id="panel-F">
<polygon points="1321.52,1048.7 1334.34,1007.3 1347.16,999.5 1359.98,992 1372.8,984.9 1385.62,978 1398.44,971.5 1411.26,965.3 1424.08,959.2 1436.9,953.5 1449.72,948 1462.54,942.4 1475.36,937.2 1488.18,931.9 1501,927.1 1501,1004.1 1488.18,1005.5 1475.36,1007.8 1462.54,1010 1449.72,1012.6 1436.9,1015.1 1424.08,1017.8 1411.26,1020.9 1398.44,1024.1 1385.62,1027.6 1372.8,1031.3 1359.98,1035.2 1347.16,1039.3 1334.34,1043.5" fill="#e0e0f5"/>
<polygon points="1321.52,1048.7 1334.34,1013.56 1347.16,1006.39 1359.98,999.47 1372.8,992.93 1385.62,986.58 1398.44,980.6 1411.26,974.92 1424.08,969.34 1436.9,964.16 1449.72,959.18 1462.54,954.09 1475.36,949.41 1488.18,944.63 1501,940.39 1501,990.74 1488.18,992.77 1475.36,995.59 1462.54,998.31 1449.72,1001.42 1436.9,1004.44 1424.08,1007.66 1411.26,1011.28 1398.44,1015 1385.62,1019.02 1372.8,1023.27 1359.98,1027.73 1347.16,1032.41 1334.34,1037.24" fill="#d3d3ec"/>
<polygon points="1321.52,1048.7 1334.34,1015.86 1347.16,1008.91 1359.98,1002.22 1372.8,995.87 1385.62,989.73 1398.44,983.94 1411.26,978.45 1424.08,973.06 1436.9,968.07 1449.72,963.28 1462.54,958.39 1475.36,953.9 1488.18,949.31 1501,945.26 1501,985.84 1488.18,988.09 1475.36,991.1 1462.54,994.01 1449.72,997.32 1436.9,1000.53 1424.08,1003.94 1411.26,1007.75 1398.44,1011.66 1385.62,1015.87 1372.8,1020.33 1359.98,1024.98 1347.16,1029.89 1334.34,1034.94" fill="#cdcde8"/>
<polygon points="1321.52,1048.7 1334.34,1019.07 1347.16,1012.43 1359.98,1006.04 1372.8,999.98 1385.62,994.12 1398.44,988.59 1411.26,983.37 1424.08,978.25 1436.9,973.52 1449.72,969 1462.54,964.37 1475.36,960.14 1488.18,955.82 1501,952.06 1501,979.01 1488.18,981.58 1475.36,984.86 1462.54,988.03 1449.72,991.6 1436.9,995.08 1424.08,998.75 1411.26,1002.83 1398.44,1007 1385.62,1011.48 1372.8,1016.22 1359.98,1021.16 1347.16,1026.37 1334.34,1031.74" fill="#d5d5ea"/>
<polyline points="924.1,1308.6 936.92,1302.3 949.74,1295.1 962.56,1287.5 975.38,1279.7 988.2,1266.4 1001.02,1259.4 1013.84,1253.4 1026.66,1244 1039.48,1233.3 1052.3,1221.6 1065.12,1212.2 1077.94,1204.6 1090.76,1189 1103.58,1176.7 1116.4,1170.5 1129.22,1164.5 1142.04,1150.9 1154.86,1139.6 1167.68,1129.9 1180.5,1119.4 1193.32,1107.7 1206.14,1098.9 1218.96,1090.6 1231.78,1082.3 1244.6,1076.1 1257.42,1068 1270.24,1060.5 1283.06,1051 1295.88,1045 1308.7,1050 1321.52,1048.7" fill="none" stroke="#bcbce0" stroke-width="1.25" stroke-linejoin="round" stroke-linecap="butt"/>
<line x1="1321.52" y1="907.7" x2="1321.52" y2="1328.45" stroke="#9c9c9c" stroke-width="0.7" stroke-dasharray="3.3 3.4"/>
<line x1="1321.52" y1="1048.7" x2="1334.34" y2="1025.4" stroke="#8a8aa6" stroke-width="0.5"/>
<g fill="#15151f" fill-opacity="0.95"><circle cx="924.1" cy="1308.6" r="1.75"/><circle cx="936.92" cy="1302.3" r="1.75"/><circle cx="949.74" cy="1295.1" r="1.75"/><circle cx="962.56" cy="1287.5" r="1.75"/><circle cx="975.38" cy="1279.7" r="1.75"/><circle cx="988.2" cy="1266.4" r="1.75"/><circle cx="1001.02" cy="1259.4" r="1.75"/><circle cx="1013.84" cy="1253.4" r="1.75"/><circle cx="1026.66" cy="1244" r="1.75"/><circle cx="1039.48" cy="1233.3" r="1.75"/><circle cx="1052.3" cy="1221.6" r="1.75"/><circle cx="1065.12" cy="1212.2" r="1.75"/><circle cx="1077.94" cy="1204.6" r="1.75"/><circle cx="1090.76" cy="1189" r="1.75"/><circle cx="1103.58" cy="1176.7" r="1.75"/><circle cx="1116.4" cy="1170.5" r="1.75"/><circle cx="1129.22" cy="1164.5" r="1.75"/><circle cx="1142.04" cy="1150.9" r="1.75"/><circle cx="1154.86" cy="1139.6" r="1.75"/><circle cx="1167.68" cy="1129.9" r="1.75"/><circle cx="1180.5" cy="1119.4" r="1.75"/><circle cx="1193.32" cy="1107.7" r="1.75"/><circle cx="1206.14" cy="1098.9" r="1.75"/><circle cx="1218.96" cy="1090.6" r="1.75"/><circle cx="1231.78" cy="1082.3" r="1.75"/><circle cx="1244.6" cy="1076.1" r="1.75"/><circle cx="1257.42" cy="1068" r="1.75"/><circle cx="1270.24" cy="1060.5" r="1.75"/><circle cx="1283.06" cy="1051" r="1.75"/><circle cx="1295.88" cy="1045" r="1.75"/><circle cx="1308.7" cy="1050" r="1.75"/><circle cx="1321.52" cy="1048.7" r="1.75"/></g>
<circle cx="924.1" cy="1308.6" r="1.5" fill="#000"/>
<polyline points="936.92,1302.3 949.74,1295.1 962.56,1287.5 975.38,1279.7 988.2,1266.4 1001.02,1259.4 1013.84,1253.4 1026.66,1244 1039.48,1233.3 1052.3,1221.6 1065.12,1212.2 1077.94,1204.6 1090.76,1189 1103.58,1176.7 1116.4,1170.5 1129.22,1164.5 1142.04,1150.9 1154.86,1139.6 1167.68,1129.9 1180.5,1119.4 1193.32,1107.7 1206.14,1098.9 1218.96,1090.6 1231.78,1082.3 1244.6,1076.1 1257.42,1068 1270.24,1060.5 1283.06,1051 1295.88,1045 1308.7,1050 1321.52,1048.7" fill="none" stroke="#c4c4e6" stroke-width="0.5" stroke-linejoin="round" stroke-opacity="0.85"/>
<polyline points="1334.34,1025.4 1347.16,1019.4 1359.98,1013.6 1372.8,1008.1 1385.62,1002.8 1398.44,997.8 1411.26,993.1 1424.08,988.5 1436.9,984.3 1449.72,980.3 1462.54,976.2 1475.36,972.5 1488.18,968.7 1501,965.5" fill="none" stroke="#f01818" stroke-width="1.2"/>
<g fill="#f20d0d"><circle cx="1334.34" cy="1025.4" r="1.7"/><circle cx="1347.16" cy="1019.4" r="1.7"/><circle cx="1359.98" cy="1013.6" r="1.7"/><circle cx="1372.8" cy="1008.1" r="1.7"/><circle cx="1385.62" cy="1002.8" r="1.7"/><circle cx="1398.44" cy="997.8" r="1.7"/><circle cx="1411.26" cy="993.1" r="1.7"/><circle cx="1424.08" cy="988.5" r="1.7"/><circle cx="1436.9" cy="984.3" r="1.7"/><circle cx="1449.72" cy="980.3" r="1.7"/><circle cx="1462.54" cy="976.2" r="1.7"/><circle cx="1475.36" cy="972.5" r="1.7"/><circle cx="1488.18" cy="968.7" r="1.7"/><circle cx="1501" cy="965.5" r="1.7"/></g>
<path d="M895.7 907.7V1328.45H1529.6" fill="none" stroke="#4c4c4c" stroke-width="0.9"/>
<path d="M893.7 1017.7h2M893.7 1162.7h2M893.7 1307.3h2M924.1 1328.45v2M988.2 1328.45v2M1052.3 1328.45v2M1116.4 1328.45v2M1180.5 1328.45v2M1244.6 1328.45v2M1308.7 1328.45v2M1372.8 1328.45v2M1436.9 1328.45v2M1501 1328.45v2" fill="none" stroke="#2a2a2a" stroke-width="1.1"/>
<text class="tick" transform="translate(891.8 1020.15) scale(1 1.05)" text-anchor="end">4e+06</text>
<text class="tick" transform="translate(891.8 1165.15) scale(1 1.05)" text-anchor="end">3e+06</text>
<text class="tick" transform="translate(891.8 1309.75) scale(1 1.05)" text-anchor="end">2e+06</text>
<text class="tick" transform="translate(924.25 1338) scale(1 1.05)" text-anchor="middle">1990</text>
<text class="tick" transform="translate(988.35 1338) scale(1 1.05)" text-anchor="middle">1995</text>
<text class="tick" transform="translate(1052.45 1338) scale(1 1.05)" text-anchor="middle">2000</text>
<text class="tick" transform="translate(1116.55 1338) scale(1 1.05)" text-anchor="middle">2005</text>
<text class="tick" transform="translate(1180.65 1338) scale(1 1.05)" text-anchor="middle">2010</text>
<text class="tick" transform="translate(1244.75 1338) scale(1 1.05)" text-anchor="middle">2015</text>
<text class="tick" transform="translate(1308.85 1338) scale(1 1.05)" text-anchor="middle">2020</text>
<text class="tick" transform="translate(1372.95 1338) scale(1 1.05)" text-anchor="middle">2025</text>
<text class="tick" transform="translate(1437.05 1338) scale(1 1.05)" text-anchor="middle">2030</text>
<text class="tick" transform="translate(1501.15 1338) scale(1 1.05)" text-anchor="middle">2035</text>
<text class="title" transform="translate(1212.5 1347.4) scale(1 1.04)" text-anchor="middle">Year</text>
<text class="title" transform="translate(868.2 1102.7) rotate(-90) scale(1 1.04)" text-anchor="middle">DALYs Number of cases</text>
<text class="letter" transform="translate(805.95 951) scale(0.959 1)">F</text>
</g>
</svg>
</body></html>
